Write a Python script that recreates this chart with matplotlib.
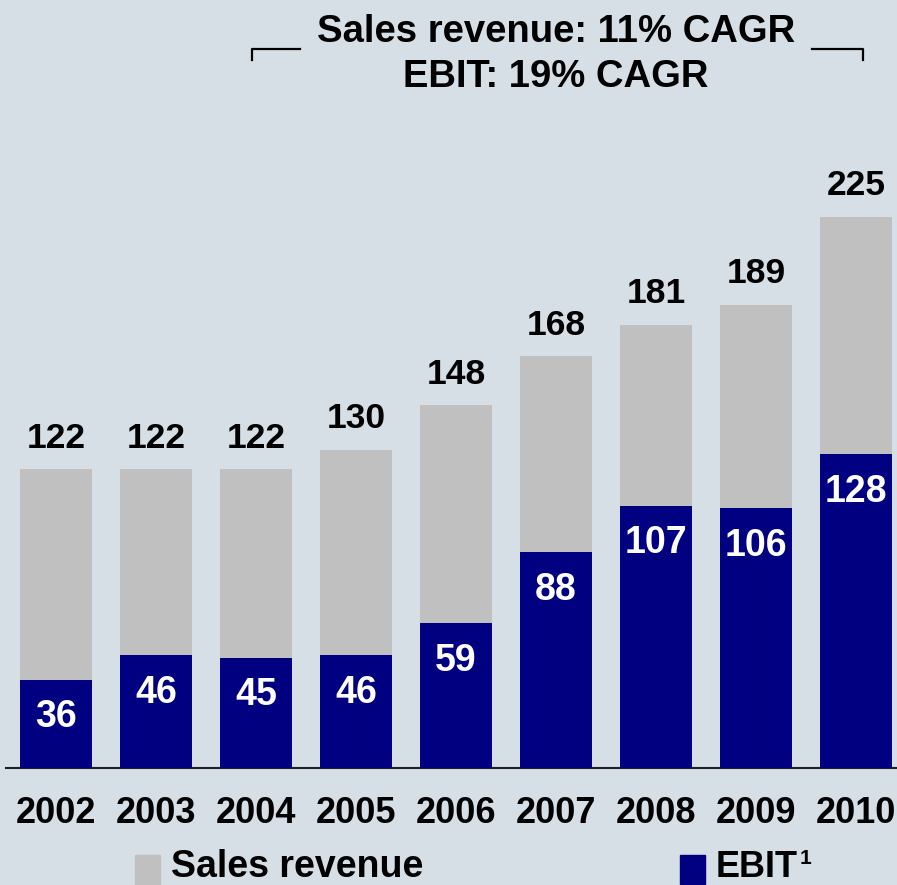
import matplotlib.pyplot as plt
from matplotlib.patches import Rectangle
from matplotlib.lines import Line2D

years = ['2002', '2003', '2004', '2005', '2006', '2007', '2008', '2009', '2010']
sales = [122, 122, 122, 130, 148, 168, 181, 189, 225]
ebit = [36, 46, 45, 46, 59, 88, 107, 106, 128]

BG = '#d6dee6'
GRAY = '#c0c0c0'
NAVY = '#000080'

plt.rcParams['font.family'] = ['Liberation Sans', 'DejaVu Sans']
plt.rcParams['font.weight'] = 'bold'

W, H = 897, 885
fig = plt.figure(figsize=(W / 100, H / 100), dpi=100, facecolor=BG)

# axes placed in pixels: baseline at y=768, 100 px per bar slot, 2.45 px per unit
px_per_unit = 2.45
left_px, base_px = 6, 768
ymax = 250
ax = fig.add_axes([left_px / W, (H - base_px) / H, (W - left_px) / W,
                   ymax * px_per_unit / H])
ax.set_facecolor(BG)
ax.set_xlim(-0.5, -0.5 + (W - left_px) / 100)
ax.set_ylim(0, ymax)

x = list(range(len(years)))
ax.bar(x, sales, width=0.72, color=GRAY, zorder=2)
ax.bar(x, ebit, width=0.72, color=NAVY, zorder=3)

for i, v in enumerate(sales):
    ax.annotate(str(v), (i, v), xytext=(0, 15.5), textcoords='offset points',
                ha='center', va='baseline', fontsize=25.5, fontweight='bold',
                color='black')
for i, v in enumerate(ebit):
    ax.annotate(str(v), (i, v), xytext=(0, -27), textcoords='offset points',
                ha='center', va='center', fontsize=27, fontweight='bold',
                color='white', zorder=4)

for s in ['top', 'right', 'left']:
    ax.spines[s].set_visible(False)
ax.spines['bottom'].set_color('#202020')
ax.spines['bottom'].set_linewidth(1.5)
ax.set_yticks([])
ax.set_xticks(x)
ax.set_xticklabels(years, fontsize=26, fontweight='bold')
ax.tick_params(axis='x', length=0, pad=20)

# title with bracket
fig.text(556 / W, 1 - 32 / H, 'Sales revenue: 11% CAGR', ha='center',
         va='center', fontsize=27.5, fontweight='bold')
fig.text(556 / W, 1 - 77 / H, 'EBIT: 19% CAGR', ha='center',
         va='center', fontsize=27.5, fontweight='bold')
for xs in ([252, 252, 300], [812, 863, 863]):
    ys = [60, 49, 49] if xs[0] == 252 else [49, 49, 60]
    fig.add_artist(Line2D([v / W for v in xs], [1 - v / H for v in ys],
                          color='black', lw=1.6))

# legend
fig.add_artist(Rectangle((135 / W, 1 - 884 / H), 25 / W, 29 / H,
                         transform=fig.transFigure, color=GRAY))
fig.text(171 / W, 1 - 877 / H, 'Sales revenue', ha='left', va='baseline',
         fontsize=27, fontweight='bold')
fig.add_artist(Rectangle((680 / W, 1 - 884 / H), 25 / W, 29 / H,
                         transform=fig.transFigure, color=NAVY))
fig.text(716 / W, 1 - 877 / H, 'EBIT', ha='left', va='baseline',
         fontsize=26, fontweight='bold')
fig.text(800 / W, 1 - 864 / H, '1', ha='left', va='baseline',
         fontsize=15, fontweight='bold')

fig.savefig('out.png', dpi=100, facecolor=BG)
